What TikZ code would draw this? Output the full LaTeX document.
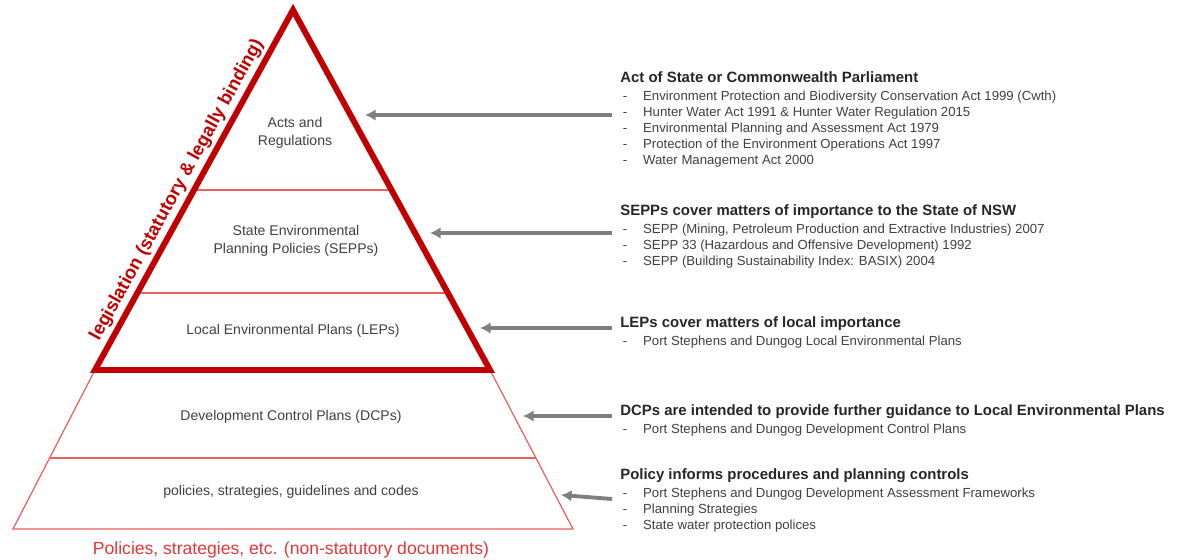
\documentclass[tikz,border=0pt]{standalone}
\usepackage{fontspec}
\setmainfont{Liberation Sans}
\usetikzlibrary{arrows.meta,calc}
\definecolor{pyrRed}{RGB}{192,0,0}
\definecolor{pyrPink}{RGB}{232,96,96}
\definecolor{lblRed}{RGB}{225,55,55}
\definecolor{arrGray}{RGB}{127,127,127}
\definecolor{txtGray}{RGB}{64,64,64}
\definecolor{hdGray}{RGB}{38,38,38}
\newcommand{\itm}[1]{\makebox[13pt][l]{\hspace{1.5pt}-}#1}
\newcommand{\hd}[1]{{\color{hdGray}\bfseries\fontsize{8.5}{10}\selectfont #1}}
\tikzset{
  tier/.style={text=txtGray, font=\fontsize{8}{10.2}\selectfont, align=center},
  info/.style={anchor=north west, inner sep=0pt, align=left, text=txtGray,
    font=\fontsize{7.5}{9.2}\selectfont},
  feed/.style={arrGray, line width=2.2pt, -{Latex[length=6pt,width=6.5pt]}},
  thin/.style={pyrPink, line width=0.7pt},
}

\begin{document}
\begin{tikzpicture}[x=0.02cm, y=-0.02cm]
  \useasboundingbox (0,0) rectangle (1178,560);

  % corners of the pyramid
  \coordinate (apex) at (293,10);
  \coordinate (bl) at (95,370);
  \coordinate (br) at (490,370);
  \coordinate (fl) at (13,529);
  \coordinate (fr) at (573,529);

  % non-statutory part
  \draw[thin] (bl) -- (fl) -- (fr) -- (br);
  \draw[thin] ($(bl)!0.553!(fl)$) -- ($(br)!0.553!(fr)$);

  % tiers of the legislation
  \draw[thin] ($(apex)!0.5!(bl)$) -- ($(apex)!0.5!(br)$);
  \draw[thin] ($(apex)!0.786!(bl)$) -- ($(apex)!0.786!(br)$);

  % legislation triangle with annotation
  \draw[pyrRed, line width=3.4pt] (apex) -- (br) -- (bl) -- cycle;
  \path (bl) -- node[sloped, above, pos=0.48, text=pyrRed,
    font=\bfseries\fontsize{10.5}{12}\selectfont] (legis)
    {legislation (statutory \& legally binding)} (apex);

  % tier labels
  \node[tier] (acts) at (295,133) {Acts and\\Regulations};
  \node[tier] (sepps) at (296,241) {State Environmental\\Planning Policies (SEPPs)};
  \node[tier] (leps) at (293,331) {Local Environmental Plans (LEPs)};
  \node[tier] (dcps) at (291,417) {Development Control Plans (DCPs)};
  \node[tier] (pols) at (291,492) {policies, strategies, guidelines and codes};
  \node[text=lblRed, font=\fontsize{10}{12}\selectfont] (nonstat) at (291,550)
    {Policies, strategies, etc. (non-statutory documents)};

  % explanations on the right
  \node[info] (actinfo) at (620,71) {\hd{Act of State or Commonwealth Parliament}\\[1pt]
    \itm{Environment Protection and Biodiversity Conservation Act 1999 (Cwth)}\\
    \itm{Hunter Water Act 1991 \& Hunter Water Regulation 2015}\\
    \itm{Environmental Planning and Assessment Act 1979}\\
    \itm{Protection of the Environment Operations Act 1997}\\
    \itm{Water Management Act 2000}};
  \node[info] (seppinfo) at (620,204) {\hd{SEPPs cover matters of importance to the State of NSW}\\[1pt]
    \itm{SEPP (Mining, Petroleum Production and Extractive Industries) 2007}\\
    \itm{SEPP 33 (Hazardous and Offensive Development) 1992}\\
    \itm{SEPP (Building Sustainability Index: BASIX) 2004}};
  \node[info] (lepinfo) at (620,316) {\hd{LEPs cover matters of local importance}\\[1pt]
    \itm{Port Stephens and Dungog Local Environmental Plans}};
  \node[info] (dcpinfo) at (620,404) {\hd{DCPs are intended to provide further guidance to Local Environmental Plans}\\[1pt]
    \itm{Port Stephens and Dungog Development Control Plans}};
  \node[info] (polinfo) at (620,468) {\hd{Policy informs procedures and planning controls}\\[1pt]
    \itm{Port Stephens and Dungog Development Assessment Frameworks}\\
    \itm{Planning Strategies}\\
    \itm{State water protection polices}};

  % arrows from the explanations to the tiers
  \coordinate (acttail) at (612,115);
  \coordinate (acttip) at (365,115);
  \coordinate (sepptail) at (612,233);
  \coordinate (sepptip) at (430,233);
  \coordinate (leptail) at (612,328);
  \coordinate (leptip) at (480,328);
  \coordinate (dcptail) at (612,416);
  \coordinate (dcptip) at (523,416);
  \coordinate (poltail) at (612,499);
  \coordinate (poltip) at (561,495);
  \draw[feed] (acttail) -- (acttip);
  \draw[feed] (sepptail) -- (sepptip);
  \draw[feed] (leptail) -- (leptip);
  \draw[feed] (dcptail) -- (dcptip);
  \draw[feed] (poltail) -- (poltip);

\end{tikzpicture}
\end{document}
